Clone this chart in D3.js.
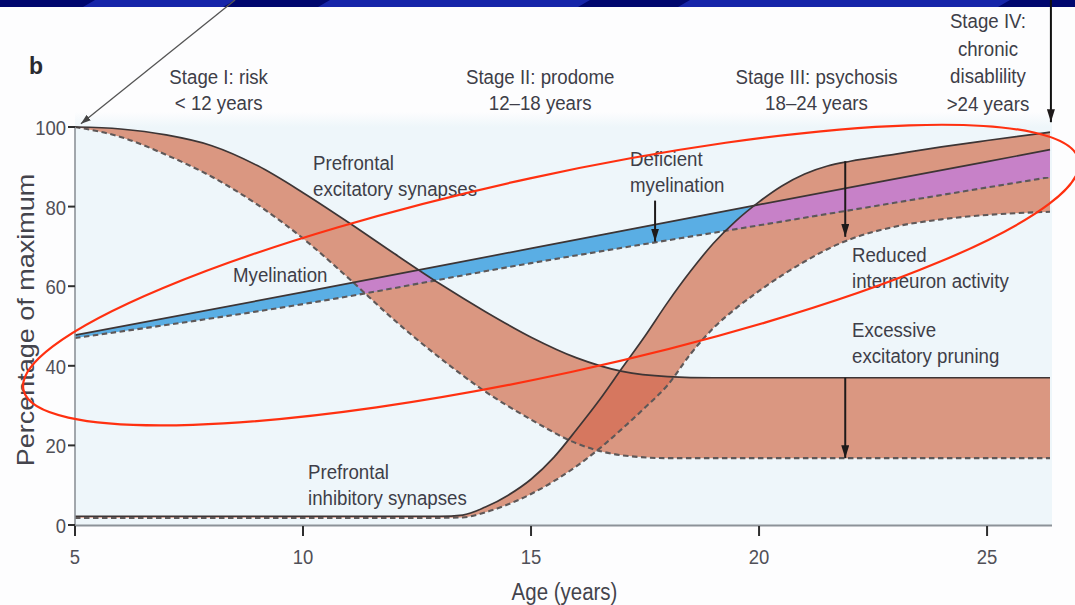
<!DOCTYPE html>
<html>
<head>
<meta charset="utf-8">
<script src="https://cdn.jsdelivr.net/npm/d3@7"></script>
<style>
  html, body { margin: 0; padding: 0; background: #fdfdfe; }
  svg { display: block; font-family: "Liberation Sans", Arial, Helvetica, sans-serif; }
</style>
</head>
<body>
<svg id="chart" width="1075" height="605"></svg>
<script>
// ---- Prefrontal excitatory synapses (solid = normal, dashed = with excessive pruning)
const excitAges  = [5, 6, 7, 8, 9, 10, 11, 12, 13, 14, 15, 16, 17, 18, 19, 20, 22, 24, 26.38];
const excitUpper = [100, 99.5, 98, 95.3, 90.3, 83.5, 76, 68.2, 60.6, 53.6, 47.2, 42, 38.6, 37.3, 37, 37, 37, 37, 37];
const excitLower = [100, 97.5, 93, 87.5, 80.5, 72, 62, 51.5, 42, 33.5, 26.5, 20.5, 17.5, 16.8, 16.8, 16.8, 16.8, 16.8, 16.8];

// ---- Prefrontal inhibitory synapses (solid = normal, dashed = reduced interneuron activity)
const inhibAges  = [5, 9, 13, 13.5, 14, 14.5, 15, 15.5, 16, 16.5, 17, 17.5, 18, 18.5, 19, 19.5, 20, 20.5, 21, 21.5, 22, 23, 24, 25, 26.38];
const inhibUpper = [2.2, 2.2, 2.2, 2.5, 4.5, 7.5, 11.5, 17, 24, 31.4, 39.5, 47.5, 56, 63.8, 70.8, 76.5, 81.2, 85.2, 88.2, 90.2, 91.4, 93.2, 95, 96.6, 98.7];
const inhibLower = [1.8, 1.8, 1.8, 1.9, 3.2, 5.2, 7.8, 11, 14.8, 19.2, 24.2, 29.5, 35.2, 43, 49.5, 54.5, 58.8, 62.7, 66.2, 69.3, 71.8, 75, 76.8, 77.9, 78.7];

// ---- Myelination (solid = normal, dashed = deficient)
const myelAges  = [5, 10, 15, 20, 25, 26.38];
const myelUpper = [47.7, 58.5, 69.5, 80.5, 91.3, 94.3];
const myelLower = [47, 55.5, 65.8, 75.3, 84.8, 87.4];

// ---- Axes
const xTicks = [5, 10, 15, 20, 25];
const yTicks = [0, 20, 40, 60, 80, 100];
const xTitle = "Age (years)";
const yTitle = "Percentage of maximum";

// ---- Stage headings
const stages = [
  { age: 8.15,  lines: ["Stage I: risk", "< 12 years"] },
  { age: 15.2,  lines: ["Stage II: prodome", "12\u201318 years"] },
  { age: 21.26, lines: ["Stage III: psychosis", "18\u201324 years"] },
  { age: 25.02, lines: ["Stage IV:", "chronic", "disablility", ">24 years"] }
];

// ---- Arrows inside the plot: [age, from %, to %]
const arrowDeficient = [17.72, 81.5, 71.2];
const arrowReduced   = [21.89, 91.4, 72.4];
const arrowPruning   = [21.89, 37, 16.8];

// ---- Highlight loop: centre (age, %), half-lengths (px), tilt (deg)
const loopCentre = [15.44, 62.8];
const loopRadii  = [540, 99];
const loopTilt   = -12.3;

// ---------------------------------------------------------------------------
const svg = d3.select("#chart");
const x = d3.scaleLinear().domain([5, 26.38]).range([75, 1050]);
const y = d3.scaleLinear().domain([0, 100]).range([525, 127]);

const C = {
  plotBg: "#eef6fa",
  salmon: "#da9781",
  overlap: "#d6775f",
  blue: "#5aaee4",
  purple: "#c781c8",
  solid: "#3d3535",
  dashed: "#5e5858",
  text: "#3e3e48",
  axis: "#8c9298",
  red: "#ff3010"
};

const defs = svg.append("defs");

// top of the plot fades into the page
const grad = defs.append("linearGradient").attr("id", "topFade")
  .attr("x1", 0).attr("x2", 0).attr("y1", 0).attr("y2", 1);
grad.append("stop").attr("offset", 0).attr("stop-color", "#fdfdfe");
grad.append("stop").attr("offset", 1).attr("stop-color", C.plotBg);

function mkMarker(id, w, h, color) {
  defs.append("marker").attr("id", id)
    .attr("markerUnits", "userSpaceOnUse")
    .attr("viewBox", `0 0 ${w} ${h}`)
    .attr("markerWidth", w).attr("markerHeight", h)
    .attr("refX", w).attr("refY", h / 2)
    .attr("orient", "auto")
    .append("path").attr("d", `M0,0 L${w},${h / 2} L0,${h} Z`).attr("fill", color);
}
mkMarker("headBig", 13, 8, "#1e1a1a");
mkMarker("headSmall", 10, 7, "#444");

function bandPath(ages, hi, lo) {
  return d3.area().curve(d3.curveMonotoneX)
    .x((d, i) => x(ages[i]))
    .y0((d, i) => y(lo[i]))
    .y1((d, i) => y(hi[i]))(ages);
}
function linePath(ages, vals) {
  return d3.line().curve(d3.curveMonotoneX)
    .x((d, i) => x(ages[i]))
    .y((d, i) => y(vals[i]))(ages);
}

const excitBand = bandPath(excitAges, excitUpper, excitLower);
const inhibBand = bandPath(inhibAges, inhibUpper, inhibLower);
const myelBand  = bandPath(myelAges, myelUpper, myelLower);

defs.append("clipPath").attr("id", "clipExcit").append("path").attr("d", excitBand);
defs.append("clipPath").attr("id", "clipInhib").append("path").attr("d", inhibBand);

// ---- slide banner
svg.append("rect").attr("x", 0).attr("y", 0).attr("width", 1075).attr("height", 7).attr("fill", "#00076e");
[[95, 235], [330, 590], [690, 1010]].forEach(([a, b]) => {
  svg.append("path")
    .attr("d", `M${a},0 L${b},0 L${b - 12},7 L${a - 12},7 Z`)
    .attr("fill", "#1a2ab4").attr("opacity", 0.85);
});

// ---- plot background
svg.append("rect").attr("x", x(5)).attr("y", 112).attr("width", x(26.38) - x(5) + 2).attr("height", y(100) - 112)
  .attr("fill", "url(#topFade)");
svg.append("rect").attr("x", x(5)).attr("y", y(100)).attr("width", x(26.38) - x(5) + 2).attr("height", y(0) - y(100))
  .attr("fill", C.plotBg);

// ---- bands
svg.append("path").attr("d", excitBand).attr("fill", C.salmon);
svg.append("path").attr("d", inhibBand).attr("fill", C.salmon);
svg.append("path").attr("d", inhibBand).attr("fill", C.overlap).attr("clip-path", "url(#clipExcit)");
svg.append("path").attr("d", myelBand).attr("fill", C.blue);
svg.append("path").attr("d", myelBand).attr("fill", C.purple).attr("clip-path", "url(#clipExcit)");
svg.append("path").attr("d", myelBand).attr("fill", C.purple).attr("clip-path", "url(#clipInhib)");

// ---- curves
function drawLine(ages, vals, dashed) {
  svg.append("path").attr("d", linePath(ages, vals))
    .attr("fill", "none")
    .attr("stroke", dashed ? C.dashed : C.solid)
    .attr("stroke-width", dashed ? 2.1 : 1.7)
    .attr("stroke-dasharray", dashed ? "5.5,3.5" : null);
}
drawLine(myelAges, myelLower, true);
drawLine(excitAges, excitLower, true);
drawLine(inhibAges, inhibLower, true);
drawLine(myelAges, myelUpper, false);
drawLine(excitAges, excitUpper, false);
drawLine(inhibAges, inhibUpper, false);

// ---- arrows in the plot
[arrowDeficient, arrowReduced, arrowPruning].forEach(([age, from, to]) => {
  svg.append("line")
    .attr("x1", x(age)).attr("x2", x(age))
    .attr("y1", y(from)).attr("y2", y(to))
    .attr("stroke", "#1e1a1a").attr("stroke-width", 2)
    .attr("marker-end", "url(#headBig)");
});

// ---- text helper (slightly condensed sans)
function label(px, py, lines, opt = {}) {
  const fs = opt.size || 21, lh = opt.lh || 25.5, sx = opt.sx || 0.89;
  lines.forEach((t, i) => {
    svg.append("text")
      .attr("transform", `translate(${px},${py + i * lh}) scale(${sx},1)`)
      .attr("text-anchor", opt.anchor || "start")
      .attr("font-size", fs)
      .attr("fill", opt.color || C.text)
      .text(t);
  });
}

// stage headings
stages.forEach(s => {
  if (s.lines.length === 2) label(x(s.age), 84, s.lines, { anchor: "middle", lh: 26 });
  else label(x(s.age), 28, s.lines, { anchor: "middle", lh: 27.7 });
});

// curve labels
label(313, 170, ["Prefrontal", "excitatory synapses"]);
label(233, 282, ["Myelination"]);
label(630, 166, ["Deficient", "myelination"]);
label(852, 262, ["Reduced", "interneuron activity"]);
label(852, 337, ["Excessive", "excitatory pruning"]);
label(308, 479, ["Prefrontal", "inhibitory synapses"]);

// panel letter
svg.append("text").attr("x", 29).attr("y", 74).attr("font-size", 23).attr("font-weight", "bold")
  .attr("fill", "#2a2a30").text("b");

// ---- axes
const axisG = svg.append("g");
axisG.append("line").attr("x1", x(5)).attr("x2", x(26.38) + 2).attr("y1", y(0) + 0.5).attr("y2", y(0) + 0.5)
  .attr("stroke", C.axis).attr("stroke-width", 2);
axisG.append("line").attr("x1", x(5)).attr("x2", x(5)).attr("y1", y(100)).attr("y2", y(0) + 1)
  .attr("stroke", C.axis).attr("stroke-width", 1.6);

xTicks.forEach(v => {
  axisG.append("line").attr("x1", x(v)).attr("x2", x(v)).attr("y1", y(0) + 1).attr("y2", y(0) + 11)
    .attr("stroke", "#2e2e2e").attr("stroke-width", 2);
  label(x(v), 564, [String(v)], { anchor: "middle", size: 21, sx: 0.88, color: "#505058" });
});
yTicks.forEach(v => {
  axisG.append("line").attr("x1", x(5) - 7).attr("x2", x(5)).attr("y1", y(v)).attr("y2", y(v))
    .attr("stroke", "#2e2e2e").attr("stroke-width", 2);
  label(x(5) - 9, y(v) + 8, [String(v)], { anchor: "end", size: 21, sx: 0.88, color: "#505058" });
});

label((x(5) + x(26.38)) / 2 + 2, 600, [xTitle], { anchor: "middle", size: 23, sx: 0.89, color: "#44444c" });

svg.append("text")
  .attr("transform", `translate(34,${(y(0) + y(100)) / 2 - 6}) scale(0.87,1) rotate(-90)`)
  .attr("text-anchor", "middle").attr("font-size", 27).attr("fill", "#44444c")
  .text(yTitle);

// ---- pointer arrows from the slide heading
svg.append("line")
  .attr("x1", x(8.51)).attr("y1", 0).attr("x2", x(5.13)).attr("y2", y(100.8))
  .attr("stroke", "#555").attr("stroke-width", 1.3).attr("marker-end", "url(#headSmall)");
svg.append("line")
  .attr("x1", x(26.4)).attr("y1", 0).attr("x2", x(26.4)).attr("y2", y(101.2))
  .attr("stroke", "#111").attr("stroke-width", 2).attr("marker-end", "url(#headBig)");

// ---- highlight loop
const cx = x(loopCentre[0]), cy = y(loopCentre[1]);
svg.append("ellipse")
  .attr("cx", cx).attr("cy", cy)
  .attr("rx", loopRadii[0]).attr("ry", loopRadii[1])
  .attr("transform", `rotate(${loopTilt},${cx},${cy})`)
  .attr("fill", "none").attr("stroke", C.red).attr("stroke-width", 2.2);
</script>
</body>
</html>
